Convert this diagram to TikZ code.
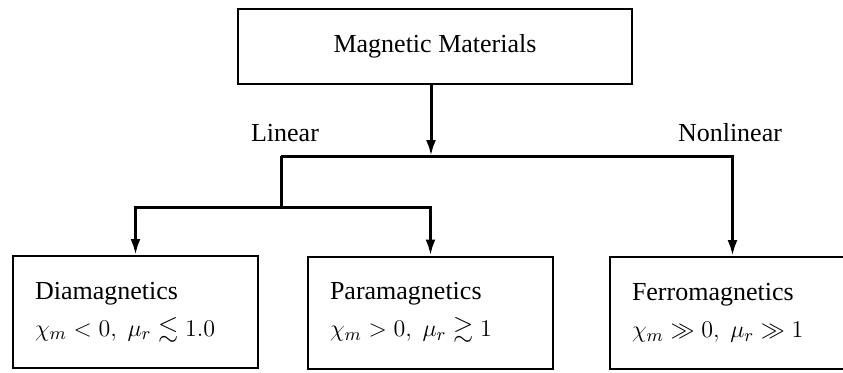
\documentclass[tikz,border=0pt]{standalone}
\usepackage{amssymb}
\usepackage{fontspec}
\setmainfont{Liberation Serif}
\usepackage{tikz}
\usetikzlibrary{arrows.meta}

\begin{document}
\begin{tikzpicture}[
  x=0.5pt, y=-0.5pt,
  font=\fontsize{13}{18.5}\selectfont,
  box/.style={draw,line width=1pt,inner sep=0pt,minimum width=197pt,minimum height=37.5pt},
  classbox/.style={draw,line width=1pt,inner xsep=11pt,inner ysep=0pt,text width=100.5pt,
    minimum height=56pt,align=left},
  link/.style={line width=1.5pt},
  arrow/.style={-{Latex[length=8pt,width=5pt]},line width=1.5pt}
]
  \useasboundingbox (0,0) rectangle (843,372);

  \node[box] (mat) at (435,46.5) {Magnetic Materials};

  \node[classbox] (dia) at (135.5,312) {Diamagnetics\\
    $\chi_m < 0,\; \mu_r \lesssim 1.0$};
  \node[classbox] (para) at (430.5,312.5) {Paramagnetics\\
    $\chi_m > 0,\; \mu_r \gtrsim 1$};
  \node[classbox] (ferro) at (732.5,313) {Ferromagnetics\\
    $\chi_m \gg 0,\; \mu_r \gg 1$};

  \node (lin) at (285,133) {Linear};
  \node (nonlin) at (730,133) {Nonlinear};

  \coordinate (split) at (431,156);
  \coordinate (lbr) at (281,156);
  \coordinate (lsplit) at (281,207);

  \draw[arrow] (mat.south -| split) -- (split);
  \draw[arrow] (lbr) -| (ferro);
  \draw[link] (lbr) -- (lsplit);
  \draw[arrow] (lsplit) -| (dia);
  \draw[arrow] (lsplit) -| (para);
\end{tikzpicture}
\end{document}
